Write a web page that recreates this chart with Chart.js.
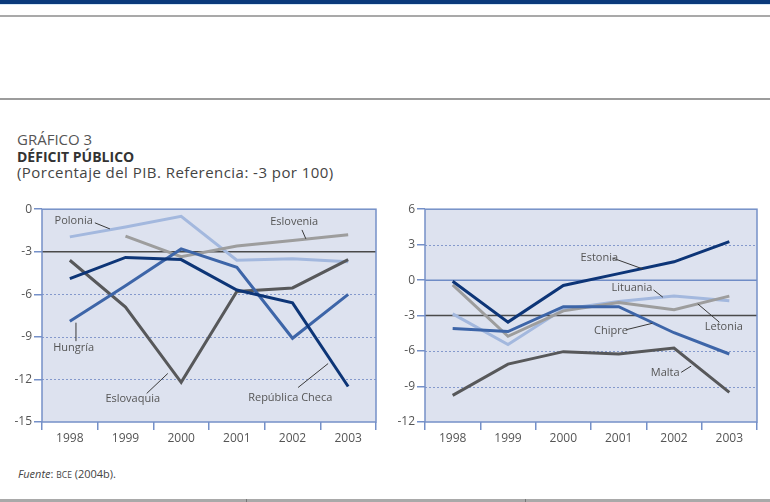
<!DOCTYPE html>
<html><head><meta charset="utf-8">
<script src="https://cdn.jsdelivr.net/npm/chart.js@4"></script>
<style>
body{margin:0;width:770px;height:502px;position:relative;background:#fff;font-family:"Open Sans",sans-serif;overflow:hidden}
.bar{position:absolute;left:0;width:770px}
#t1{position:absolute;left:17px;top:129px;font-size:15px;color:#555;line-height:1.362}
#t2{position:absolute;left:17px;top:147px;font-size:14px;color:#333;font-weight:bold;line-height:1.362}
#t3{position:absolute;left:17px;top:162px;font-size:15px;color:#444;letter-spacing:0.45px;line-height:1.362}
#src{position:absolute;left:18px;top:466px;font-size:11px;color:#444}
#src .sc{font-size:8.5px}
canvas{position:absolute}
</style></head>
<body>
<div class="bar" style="top:0;height:4px;background:#0b3a7c"></div>
<div class="bar" style="top:4px;height:1px;background:#d6e8f7"></div>
<div class="bar" style="top:15px;height:2px;background:#a9a9a9"></div>
<div class="bar" style="top:98px;height:2px;background:#9c9c9c"></div>
<div class="bar" style="top:499px;height:3px;background:#a9a9a9"></div>
<div style="position:absolute;left:246px;top:499px;width:1px;height:3px;background:#777"></div>
<div style="position:absolute;left:525px;top:499px;width:1px;height:3px;background:#777"></div>
<div id="t1">GRÁFICO 3</div>
<div id="t2">DÉFICIT PÚBLICO</div>
<div id="t3">(Porcentaje del PIB. Referencia: -3 por 100)</div>
<div id="src"><i>Fuente</i>: <span class="sc">BCE</span> (2004b).</div>
<canvas id="c1" width="385" height="250" style="left:0;top:200px"></canvas>
<canvas id="c2" width="385" height="250" style="left:385px;top:200px"></canvas>
<script>
const years = ['1998','1999','2000','2001','2002','2003'];
// Left panel
const republicaCheca = [-4.9,-3.4,-3.55,-5.7,-6.6,-12.5];
const hungria = [-7.9,-5.4,-2.8,-4.1,-9.1,-6.0];
const polonia = [-1.95,-1.25,-0.5,-3.6,-3.5,-3.7];
const eslovenia = [null,-1.9,-3.35,-2.6,-2.2,-1.8];
const eslovaquia = [-3.6,-6.9,-12.2,-5.8,-5.55,-3.55];
// Right panel
const estonia = [-0.1,-3.55,-0.45,0.55,1.55,3.25];
const chipre = [-4.1,-4.35,-2.25,-2.25,-4.45,-6.25];
const letonia = [-0.4,-4.75,-2.6,-1.9,-2.5,-1.35];
const lituania = [-2.85,-5.45,-2.45,-1.8,-1.35,-1.75];
const malta = [-9.75,-7.1,-6.05,-6.25,-5.75,-9.5];
// Axis ticks
const leftTicks = [0,-3,-6,-9,-12,-15];
const rightTicks = [6,3,0,-3,-6,-9,-12];

const C = {navy:'#0d3577', mid:'#3d65a8', light:'#a3b8de', grey:'#9d9d9d', dark:'#57585a'};
const FONT = '"Open Sans", sans-serif';

// Labels: [text, xIndex, yValue, leader x1, y1, x2, y2] in data units
const leftLabels = [
  ['Polonia', 0.07, -0.82, 0.45, -0.96, 0.72, -1.39],
  ['Eslovenia', 4.03, -0.89, 4.17, -1.46, 4.24, -2.09],
  ['Hungría', 0.07, -9.75, 0.11, -8.0, 0.11, -9.3],
  ['Eslovaquia', 1.13, -13.4, 1.38, -12.99, 1.76, -11.58],
  ['República Checa', 3.96, -13.27, 4.1, -12.57, 4.64, -10.88]
];
const rightLabels = [
  ['Estonia', 2.65, 1.92, 2.89, 1.87, 3.44, 0.94],
  ['Lituania', 3.24, -0.69, 3.63, -0.83, 3.80, -1.45],
  ['Letonia', 4.9, -3.98, 4.43, -2.01, 4.82, -3.56],
  ['Chipre', 2.86, -4.26, 3.13, -4.2, 3.61, -3.65],
  ['Malta', 3.84, -7.86, 4.13, -7.8, 4.31, -7.27]
];

const deco = {
  id:'deco',
  beforeDatasetsDraw(chart, args, o){
    const {ctx, chartArea:a, scales:{y}} = chart;
    ctx.save();
    ctx.fillStyle = '#dde2ef';
    ctx.fillRect(a.left, a.top, a.right-a.left, a.bottom-a.top);
    ctx.lineWidth = 1;
    o.dashed.forEach(v=>{
      const py = Math.round(y.getPixelForValue(v))+0.5;
      ctx.setLineDash([2,2]); ctx.strokeStyle = '#8499cc';
      ctx.beginPath(); ctx.moveTo(a.left,py); ctx.lineTo(a.right,py); ctx.stroke();
    });
    ctx.setLineDash([]);
    o.solid.forEach(([v,col,w])=>{
      const py = y.getPixelForValue(v);
      ctx.strokeStyle = col; ctx.lineWidth = w;
      ctx.beginPath(); ctx.moveTo(a.left,py); ctx.lineTo(a.right,py); ctx.stroke();
    });
    ctx.restore();
  },
  afterDatasetsDraw(chart, args, o){
    const {ctx, chartArea:a, scales:{x,y}} = chart;
    ctx.save();
    ctx.strokeStyle = '#7590c8'; ctx.lineWidth = 1.5;
    ctx.strokeRect(a.left, a.top, a.right-a.left, a.bottom-a.top);
    ctx.font = '11px ' + FONT;
    ctx.textAlign = 'center'; ctx.textBaseline = 'middle';
    o.labels.forEach(([t,xi,yv,x1,y1,x2,y2])=>{
      ctx.strokeStyle = '#3a3a3a'; ctx.lineWidth = 1;
      ctx.beginPath();
      ctx.moveTo(x.getPixelForValue(x1), y.getPixelForValue(y1));
      ctx.lineTo(x.getPixelForValue(x2), y.getPixelForValue(y2));
      ctx.stroke();
      ctx.fillStyle = '#555';
      ctx.fillText(t, x.getPixelForValue(xi), y.getPixelForValue(yv));
    });
    ctx.restore();
  }
};

function ds(label, data, color, order){
  return {label, data, borderColor:color, backgroundColor:color, borderWidth:3,
    pointRadius:0, tension:0, order, spanGaps:false, borderJoinStyle:'miter', borderCapStyle:'butt'};
}

function makeChart(id, datasets, ticks, yWidth, padRight, deco_opts){
  return new Chart(document.getElementById(id), {
    type:'line',
    data:{labels:years, datasets},
    plugins:[deco],
    options:{
      responsive:false, animation:false, devicePixelRatio:1,
      layout:{padding:{left:0, right:padRight, top:8, bottom:0}},
      plugins:{legend:{display:false}, tooltip:{enabled:false}, deco:deco_opts},
      scales:{
        x:{offset:true,
          grid:{offset:true, drawOnChartArea:false, drawTicks:true, tickLength:8, color:'#7590c8', lineWidth:1.5},
          border:{display:false},
          ticks:{color:'#555', font:{family:FONT, size:12}, padding:1, maxRotation:0},
          afterFit(s){ s.height = 28; }
        },
        y:{min:ticks[ticks.length-1], max:ticks[0],
          afterBuildTicks(s){ s.ticks = ticks.map(v=>({value:v})); },
          grid:{drawOnChartArea:false, drawTicks:true, tickLength:8, color:'#7590c8', lineWidth:1.5},
          border:{display:false},
          ticks:{color:'#555', font:{family:FONT, size:12}, padding:2},
          afterFit(s){ s.width = yWidth; }
        }
      }
    }
  });
}

makeChart('c1', [
  ds('República Checa', republicaCheca, C.navy, 0),
  ds('Hungría', hungria, C.mid, 1),
  ds('Eslovaquia', eslovaquia, C.dark, 2),
  ds('Eslovenia', eslovenia, C.grey, 3),
  ds('Polonia', polonia, C.light, 4)
], leftTicks, 42, 9, {dashed:[-6,-9,-12], solid:[[-3,'#4a4a4a',1.5]], labels:leftLabels});

makeChart('c2', [
  ds('Estonia', estonia, C.navy, 0),
  ds('Chipre', chipre, C.mid, 1),
  ds('Malta', malta, C.dark, 2),
  ds('Letonia', letonia, C.grey, 3),
  ds('Lituania', lituania, C.light, 4)
], rightTicks, 40, 13, {dashed:[3,-6,-9], solid:[[0,'#6f8cc6',1.5],[-3,'#4a4a4a',1.5]], labels:rightLabels});
</script>
</body></html>
